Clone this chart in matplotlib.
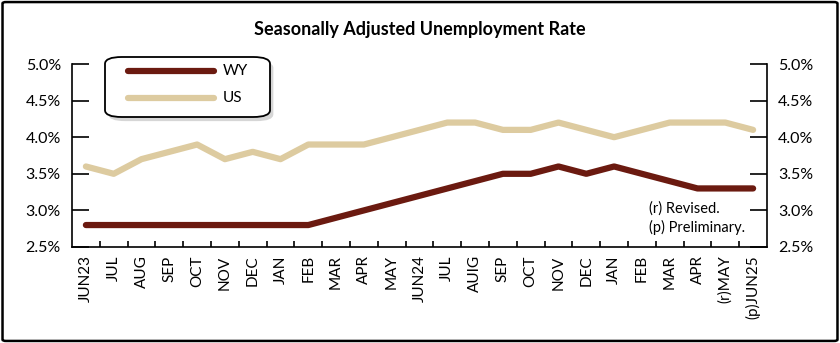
import numpy as np
import matplotlib.pyplot as plt
from matplotlib.patches import FancyBboxPatch

plt.rcParams['font.family'] = ['Lato', 'DejaVu Sans']

months = ['JUN23', 'JUL', 'AUG', 'SEP', 'OCT', 'NOV', 'DEC', 'JAN', 'FEB', 'MAR',
          'APR', 'MAY', 'JUN24', 'JUL', 'AUIG', 'SEP', 'OCT', 'NOV', 'DEC', 'JAN',
          'FEB', 'MAR', 'APR', '(r)MAY', '(p)JUN25']
wy = [2.8, 2.8, 2.8, 2.8, 2.8, 2.8, 2.8, 2.8, 2.8, 2.9, 3.0, 3.1, 3.2, 3.3,
      3.4, 3.5, 3.5, 3.6, 3.5, 3.6, 3.5, 3.4, 3.3, 3.3, 3.3]
us = [3.6, 3.5, 3.7, 3.8, 3.9, 3.7, 3.8, 3.7, 3.9, 3.9, 3.9, 4.0, 4.1, 4.2,
      4.2, 4.1, 4.1, 4.2, 4.1, 4.0, 4.1, 4.2, 4.2, 4.2, 4.1]
yticks = [2.5, 3.0, 3.5, 4.0, 4.5, 5.0]

wy_color = '#6b1a10'
us_color = '#ddcba0'

fig = plt.figure(figsize=(8.4, 3.43), dpi=100)
ax = fig.add_axes([72/840, 1-247/343, (767-72)/840, (247-64)/343])

x = np.arange(len(months))
l1, = ax.plot(x, wy, color=wy_color, lw=4.5, solid_capstyle='round', label='WY')
l2, = ax.plot(x, us, color=us_color, lw=4.5, solid_capstyle='round', label='US')

ax.set_xlim(-0.5, len(months) - 0.5)
ax.set_ylim(2.5, 5.0)
ax.set_yticks(yticks)
ax.set_yticklabels(['%.1f%%' % v for v in yticks])
ax.tick_params(axis='y', direction='in', length=12, width=1.2, labelsize=11.5,
               right=True, labelright=True, pad=8)
ax.set_xticks(x)
ax.set_xticklabels(months, rotation=90, fontsize=11)
ax.set_xticks(x[:-1] + 0.5, minor=True)
ax.tick_params(axis='x', which='major', length=0, pad=6)
ax.tick_params(axis='x', which='minor', direction='in', length=4, width=1.2)
ax.spines['top'].set_visible(False)
for s in ['left', 'right', 'bottom']:
    ax.spines[s].set_linewidth(1.2)

fig.text(0.5, 1-29/343, 'Seasonally Adjusted Unemployment Rate', ha='center',
         va='center', fontsize=13, fontweight='bold')

ax.text(0.83, 0.208, '(r) Revised.', transform=ax.transAxes, fontsize=10.5, va='center')
ax.text(0.83, 0.104, '(p) Preliminary.', transform=ax.transAxes, fontsize=10.5, va='center')

# legend box with shadow
bx0, by0, bw, bh = 105/840, 1-117/343, 165/840, 60/343
fig.patches.append(FancyBboxPatch((bx0+0.004, by0-0.012), bw, bh,
                                  boxstyle='round,pad=0,rounding_size=0.02',
                                  transform=fig.transFigure, fc='#bbbbbb',
                                  ec='none', alpha=0.6, zorder=5))
fig.patches.append(FancyBboxPatch((bx0, by0), bw, bh,
                                  boxstyle='round,pad=0,rounding_size=0.02',
                                  transform=fig.transFigure, fc='white',
                                  ec='black', lw=1.3, zorder=6))
for yy, ln, col in [(71, 'WY', wy_color), (98, 'US', us_color)]:
    fig.add_artist(plt.Line2D([128/840, 214/840], [1-yy/343, 1-yy/343],
                              color=col, lw=4.5, solid_capstyle='round',
                              transform=fig.transFigure, zorder=7))
    fig.text(223/840, 1-yy/343, ln, fontsize=11, va='center', zorder=7)

# figure border
fig.patches.append(FancyBboxPatch((0.003, 0.006), 0.994, 0.988,
                                  boxstyle='round,pad=0,rounding_size=0.004',
                                  transform=fig.transFigure, fc='none',
                                  ec='black', lw=1.8, zorder=10))

fig.savefig('out.png', dpi=100)
